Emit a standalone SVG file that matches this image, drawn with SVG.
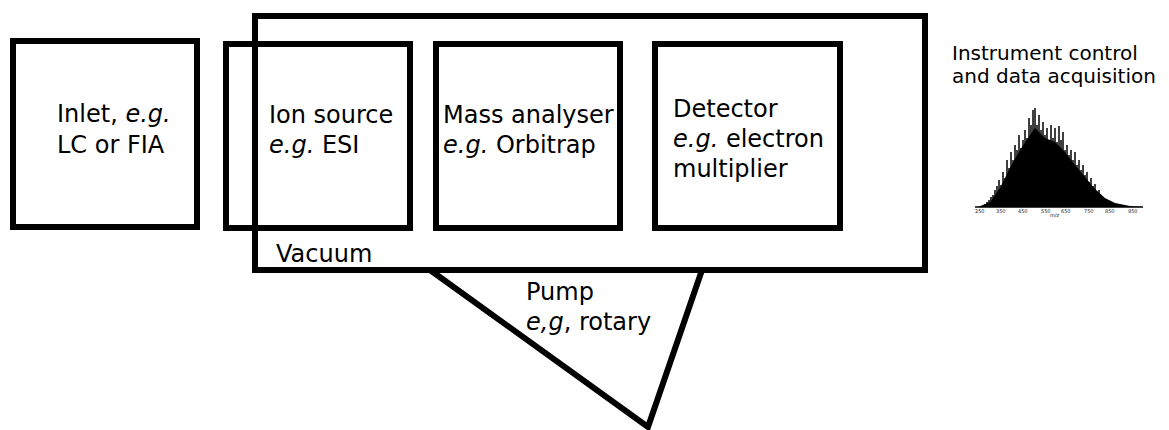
<svg xmlns="http://www.w3.org/2000/svg" width="1169" height="430" viewBox="0 0 1169 430">
  <style>
    .box { fill: none; stroke: #000; stroke-width: 6; stroke-linejoin: miter; }
    .lbl { font-family: "DejaVu Sans", "Liberation Sans", sans-serif; font-size: 24px; fill: #000; }
    .it { font-style: italic; }
    .head { font-family: "DejaVu Sans", "Liberation Sans", sans-serif; font-size: 20px; fill: #000; }
    .tick { font-family: "DejaVu Sans", "Liberation Sans", sans-serif; font-size: 5px; fill: #222; }
  </style>
  <rect width="1169" height="430" fill="#fff"/>

  <!-- vacuum enclosure with the pump hanging below it -->
  <g id="vacuum">
    <rect class="box" x="255" y="16" width="670" height="254"/>
    <text class="lbl" x="276" y="262">Vacuum</text>
  </g>
  <g id="pump">
    <polyline class="box" points="430,270 648,427 702,270"/>
    <text class="lbl" x="526" y="300">Pump</text>
    <text class="lbl" x="526" y="330"><tspan class="it">e,g</tspan>, rotary</text>
  </g>

  <g id="inlet">
    <rect class="box" x="13" y="41" width="184" height="186"/>
    <text class="lbl" x="57" y="122">Inlet, <tspan class="it">e.g.</tspan></text>
    <text class="lbl" x="57" y="153">LC or FIA</text>
  </g>
  <g id="ion-source">
    <rect class="box" x="226" y="44" width="184" height="184"/>
    <text class="lbl" x="269" y="123">Ion source</text>
    <text class="lbl" x="269" y="153"><tspan class="it">e.g.</tspan> ESI</text>
  </g>
  <g id="mass-analyser">
    <rect class="box" x="436" y="44" width="184" height="184"/>
    <text class="lbl" x="443" y="123">Mass analyser</text>
    <text class="lbl" x="443" y="153"><tspan class="it">e.g.</tspan> Orbitrap</text>
  </g>
  <g id="detector">
    <rect class="box" x="655" y="44" width="185" height="184"/>
    <text class="lbl" x="673" y="117">Detector</text>
    <text class="lbl" x="673" y="147"><tspan class="it">e.g.</tspan> electron</text>
    <text class="lbl" x="673" y="177">multiplier</text>
  </g>

  <!-- instrument control: heading and a mass spectrum -->
  <g id="data-acquisition">
    <text class="head" x="952" y="60">Instrument control</text>
    <text class="head" x="952" y="83">and data acquisition</text>
    <polygon fill="#000" points="978,207 990,202 1000,188 1010,168 1020,150 1030,135 1035,128 1045,138 1055,142 1065,152 1075,165 1085,177 1095,189 1105,198 1115,203 1130,206 1143,207"/>
    <path stroke="#000" stroke-width="1.5" fill="none" d="M985 207V204M987 207V202M989 207V200M991 207V197M993 207V195M995 207V190M997 207V186M999 207V180M1001 207V185M1003 207V172M1005 207V178M1007 207V160M1009 207V168M1011 207V152M1013 207V160M1015 207V145M1017 207V150M1019 207V135M1021 207V148M1023 207V140M1025 207V130M1027 207V138M1029 207V118M1031 207V125M1033 207V110M1035 207V108M1037 207V125M1039 207V115M1041 207V130M1043 207V122M1045 207V135M1047 207V128M1049 207V140M1051 207V125M1053 207V138M1055 207V128M1057 207V142M1059 207V126M1061 207V140M1063 207V132M1065 207V150M1067 207V145M1069 207V155M1071 207V150M1073 207V160M1075 207V152M1077 207V165M1079 207V160M1081 207V170M1083 207V165M1085 207V175M1087 207V172M1089 207V182M1091 207V178M1093 207V186M1095 207V184M1097 207V192M1099 207V190M1101 207V196M1103 207V198M1105 207V200M1107 207V202M1109 207V203M1111 207V204M1113 207V205"/>
    <line x1="975" y1="207" x2="1143" y2="207" stroke="#000" stroke-width="1.5"/>
    <text class="tick" x="975" y="213">250</text>
    <text class="tick" x="996" y="213">350</text>
    <text class="tick" x="1018" y="213">450</text>
    <text class="tick" x="1041" y="213">550</text>
    <text class="tick" x="1061" y="213">650</text>
    <text class="tick" x="1084" y="213">750</text>
    <text class="tick" x="1105" y="213">850</text>
    <text class="tick" x="1128" y="213">950</text>
    <text class="tick" x="1050" y="217">m/z</text>
  </g>
</svg>
